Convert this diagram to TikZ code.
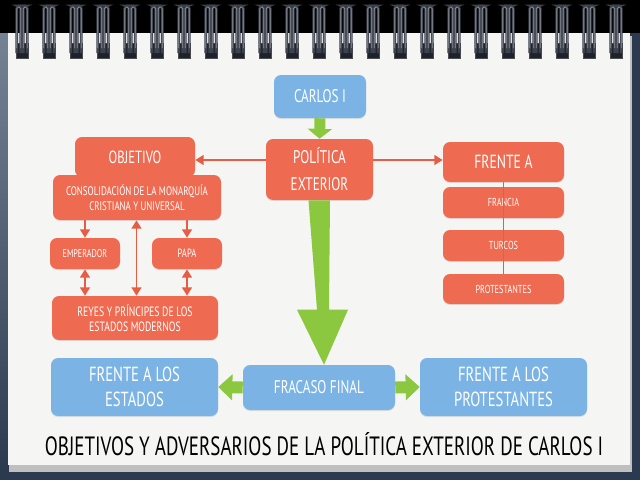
\documentclass[tikz,border=0pt]{standalone}
\usepackage{fontspec}
\newfontfamily\hand[FakeStretch=0.72]{PT Sans}
\usetikzlibrary{arrows.meta,calc,shadows}
\definecolor{coral}{HTML}{EE6A50}
\definecolor{coralline}{HTML}{E75C44}
\definecolor{skyb}{HTML}{7BB4E4}
\definecolor{leaf}{HTML}{8CC83F}
\definecolor{navy}{HTML}{2C3A50}
\definecolor{slate}{HTML}{748394}
\definecolor{paper}{HTML}{F5F5F4}
\definecolor{wire}{HTML}{3E424C}
\definecolor{wirehi}{HTML}{8E949E}
\definecolor{hole}{HTML}{1E222C}
\tikzset{
 base/.style={rounded corners=5pt, text=white, align=center, inner sep=0pt,
   drop shadow={shadow xshift=0pt,shadow yshift=-0.8pt,opacity=0.18}},
 redbox/.style={base, fill=coral},
 bluebox/.style={base, fill=skyb},
 wh/.style 2 args={minimum width=#1*0.025cm, minimum height=#2*0.025cm},
 fs/.style 2 args={font=\hand\fontsize{#1}{#2}\selectfont},
 cline/.style={draw=coralline, line width=1.4pt},
 carrow/.style={cline, -{Triangle[length=6pt,width=7pt]}},
 cboth/.style={cline, {Triangle[length=6pt,width=7pt]}-{Triangle[length=6pt,width=7pt]}},
 garrow/.style={draw=leaf, line width=8.5pt, -{Triangle[length=10pt,width=18pt]}},
 ringwire/.style={draw=wire, line width=1.9pt, rounded corners=1.8pt},
 ringhi/.style={draw=wirehi, line width=0.45pt, rounded corners=1.2pt},
}
\begin{document}
\begin{tikzpicture}[x=0.025cm, y=-0.025cm]
\useasboundingbox (0,0) rectangle (640,480);
% background
\fill[navy] (0,0) rectangle (640,480);
\fill[black] (0,0) rectangle (640,33);
\shade[top color=slate, bottom color=navy] (0,33) rectangle (8,472);
\fill[black!25] (9,36) rectangle (632,472);
\fill[paper] (8,33) rectangle (630,465);
% rings
\foreach \i in {0,...,22}{
  \pgfmathsetmacro\xx{22+27*\i}
  \fill[hole] (\xx-6,43) rectangle (\xx+6,58);
  \draw[black!70, line width=0.4pt] (\xx-6,43) rectangle (\xx+6,58);
  \draw[ringwire] (\xx-5.2,53) -- (\xx-5.2,6) -- (\xx-1.2,6) -- (\xx-1.2,53);
  \draw[ringwire] (\xx+1.2,53) -- (\xx+1.2,6) -- (\xx+5.2,6) -- (\xx+5.2,53);
  \draw[ringhi] (\xx-5.2,48) -- (\xx-5.2,7) -- (\xx-1.2,7) -- (\xx-1.2,48);
  \draw[ringhi] (\xx+1.2,48) -- (\xx+1.2,7) -- (\xx+5.2,7) -- (\xx+5.2,48);
}
% nodes
\node[bluebox, wh={92}{43}, fs={13}{15}] (carlos) at (320,96.5) {CARLOS I};
\node[redbox, wh={107}{61}, fs={13}{19}] (pol) at (319.5,169.5) {POLÍTICA\\EXTERIOR};
\node[redbox, wh={120}{40}, fs={12.5}{14}] (obj) at (135,157) {OBJETIVO};
\node[redbox, wh={168}{45}, fs={8.8}{10.8}] (cons) at (137,197.5) {CONSOLIDACIÓN DE LA MONARQUÍA\\CRISTIANA Y UNIVERSAL};
\node[redbox, wh={70}{31}, fs={8}{10}] (emp) at (85,253.5) {EMPERADOR};
\node[redbox, wh={70}{31}, fs={8.5}{10}] (papa) at (187,253.5) {PAPA};
\node[redbox, wh={166}{44}, fs={9.6}{11}] (reyes) at (135,318) {REYES Y PRÍNCIPES DE LOS\\ESTADOS MODERNOS};
\node[redbox, wh={121}{40}, fs={13.5}{15}] (frente) at (503.5,162) {FRENTE A};
\node[redbox, wh={121}{31}, fs={8.2}{9}] (francia) at (503.5,202.5) {FRANCIA};
\node[redbox, wh={121}{31}, fs={8.2}{9}] (turcos) at (503.5,245.5) {TURCOS};
\node[redbox, wh={121}{30}, fs={8.2}{9}] (prot) at (503.5,289) {PROTESTANTES};
\node[bluebox, wh={152}{45}, fs={13}{15}] (fracaso) at (319,387.5) {FRACASO FINAL};
\node[bluebox, wh={167}{58}, fs={14.5}{18}] (estados) at (134.5,387) {FRENTE A LOS\\ESTADOS};
\node[bluebox, wh={167}{58}, fs={14.5}{18}] (prot2) at (503.5,387) {FRENTE A LOS\\PROTESTANTES};
\node[fs={18.8}{22}, text=black] (title) at (324,444) {OBJETIVOS Y ADVERSARIOS DE LA POLÍTICA EXTERIOR DE CARLOS I};
% coral connectors
\path (pol.west) ++(0,-9.5) coordinate (pl);
\path (pol.east) ++(0,-9.5) coordinate (pr);
\draw[carrow] (pl) -- (pl -| obj.east);
\draw[carrow] (pr) -- (pr -| frente.west);
\draw[carrow] (emp.north |- cons.south) -- (emp.north);
\draw[carrow] (papa.north |- cons.south) -- (papa.north);
\draw[cboth] ([xshift=-0.5*0.025cm]cons.south) -- ([xshift=-0.5*0.025cm]cons.south |- reyes.north);
\draw[cboth] (emp.south) -- (emp.south |- reyes.north);
\draw[cboth] (papa.south) -- (papa.south |- reyes.north);
\draw[cline] (frente.south) -- (prot.north);
% green arrows
\draw[draw=leaf, line width=7.8pt, -{Triangle[length=7pt,width=17pt]}] (carlos.south) -- (pol.north);
\fill[leaf] ($(pol.south)+(-11,0)$) -- ($(pol.south)+(10.5,0)$) -- ($(fracaso.north)+(10,-55)$)
  -- ($(fracaso.north)+(29,-55)$) -- ($(fracaso.north)+(5,0)$) -- ($(fracaso.north)+(-22,-55)$)
  -- ($(fracaso.north)+(-2,-55)$) -- cycle;
\draw[garrow] (fracaso.west) -- (estados.east);
\draw[garrow] (fracaso.east) -- (prot2.west);
\end{tikzpicture}
\end{document}
